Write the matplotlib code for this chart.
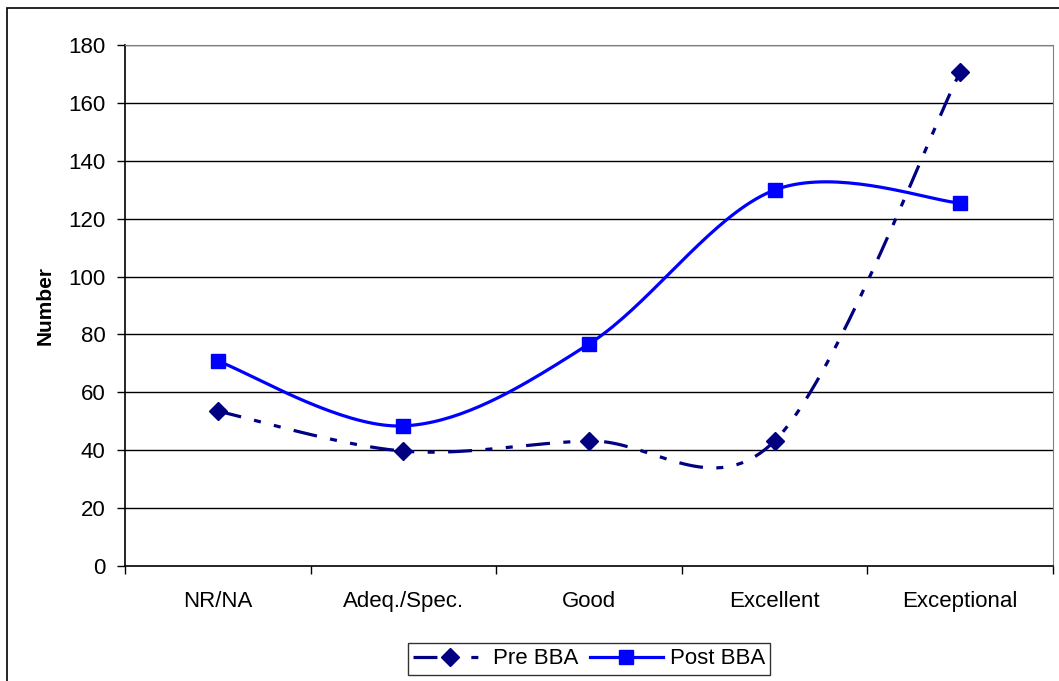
import numpy as np
import matplotlib.pyplot as plt
from matplotlib.patches import Rectangle

plt.rcParams['font.family'] = ['Liberation Sans', 'DejaVu Sans']

categories = ['NR/NA', 'Adeq./Spec.', 'Good', 'Excellent', 'Exceptional']
pre_bba = [53.5, 39.7, 43.2, 43.2, 170.7]
post_bba = [70.8, 48.4, 76.7, 129.9, 125.4]

NAVY = '#000080'
BLUE = '#0000ff'
PRE_DASH = (7.5, 4.2, 2.2, 4.2, 2.2, 4.2)


def smooth(xs, ys, steps=40):
    # Bezier curve through the points, control points taken Catmull-Rom style
    xs = np.asarray(xs, float)
    ys = np.asarray(ys, float)
    n = len(xs)
    out_x, out_y = [], []
    t = np.linspace(0, 1, steps)
    for i in range(n - 1):
        p0 = np.array([xs[max(i - 1, 0)], ys[max(i - 1, 0)]])
        p1 = np.array([xs[i], ys[i]])
        p2 = np.array([xs[i + 1], ys[i + 1]])
        p3 = np.array([xs[min(i + 2, n - 1)], ys[min(i + 2, n - 1)]])
        c1 = p1 + (p2 - p0) / 6
        c2 = p2 - (p3 - p1) / 6
        b = (((1 - t) ** 3)[:, None] * p1 + (3 * (1 - t) ** 2 * t)[:, None] * c1
             + (3 * (1 - t) * t ** 2)[:, None] * c2 + (t ** 3)[:, None] * p2)
        out_x.extend(b[:, 0])
        out_y.extend(b[:, 1])
    return np.array(out_x), np.array(out_y)


x = np.arange(len(categories))

fig = plt.figure(figsize=(10.59, 6.81), dpi=100)
ax = fig.add_axes([125 / 1059, 115 / 681, 928 / 1059, 521 / 681])

# outer chart frame, running off the right and bottom edges
fig.patches.append(Rectangle((7 / 1059, -0.1), 1.2, 1.1 - 8 / 681,
                             transform=fig.transFigure, fill=False,
                             edgecolor='black', linewidth=1.2))

for yv in range(20, 181, 20):
    ax.axhline(yv, color='black', linewidth=1.0, zorder=1)

sx, sy = smooth(x, pre_bba)
ax.plot(sx, sy, color=NAVY, linewidth=2.3, dashes=PRE_DASH, zorder=3)
ax.plot(x, pre_bba, linestyle='none', marker='D', markersize=9, color=NAVY, zorder=4)

sx, sy = smooth(x, post_bba)
ax.plot(sx, sy, color=BLUE, linewidth=2.3, zorder=3)
ax.plot(x, post_bba, linestyle='none', marker='s', markersize=9.5, color=BLUE, zorder=4)

ax.set_xlim(-0.5, len(categories) - 0.5)
ax.set_ylim(0, 180)
ax.set_yticks(range(0, 181, 20))
ax.set_xticks(np.arange(-0.5, len(categories), 1.0))
ax.set_xticklabels([])
ax.set_xticks(x, minor=True)
ax.set_xticklabels(categories, minor=True)
ax.tick_params(axis='x', which='minor', length=0, pad=18, labelsize=16)
ax.tick_params(axis='x', which='major', direction='out', length=6, width=1)
ax.tick_params(axis='y', direction='out', length=6, width=1, labelsize=16, pad=8)

for side in ['top', 'right']:
    ax.spines[side].set_color('#808080')
for side in ['left', 'bottom']:
    ax.spines[side].set_color('black')
    ax.spines[side].set_linewidth(1.2)

ax.set_ylabel('Number', fontsize=15, fontweight='bold', labelpad=10)

handles = [
    plt.Line2D([], [], color=NAVY, linewidth=2.3, dashes=PRE_DASH,
               marker='D', markersize=9),
    plt.Line2D([], [], color=BLUE, linewidth=2.3, marker='s', markersize=9.5),
]
fig.legend(handles, ['Pre BBA', 'Post BBA'], loc='center', ncol=2,
           bbox_to_anchor=(589 / 1059, 1 - 659 / 681), frameon=True, fancybox=False,
           edgecolor='black', fontsize=16, handlelength=3.3, columnspacing=0.5,
           handletextpad=0.3, borderpad=0.25)

fig.savefig('out.png', dpi=100)
